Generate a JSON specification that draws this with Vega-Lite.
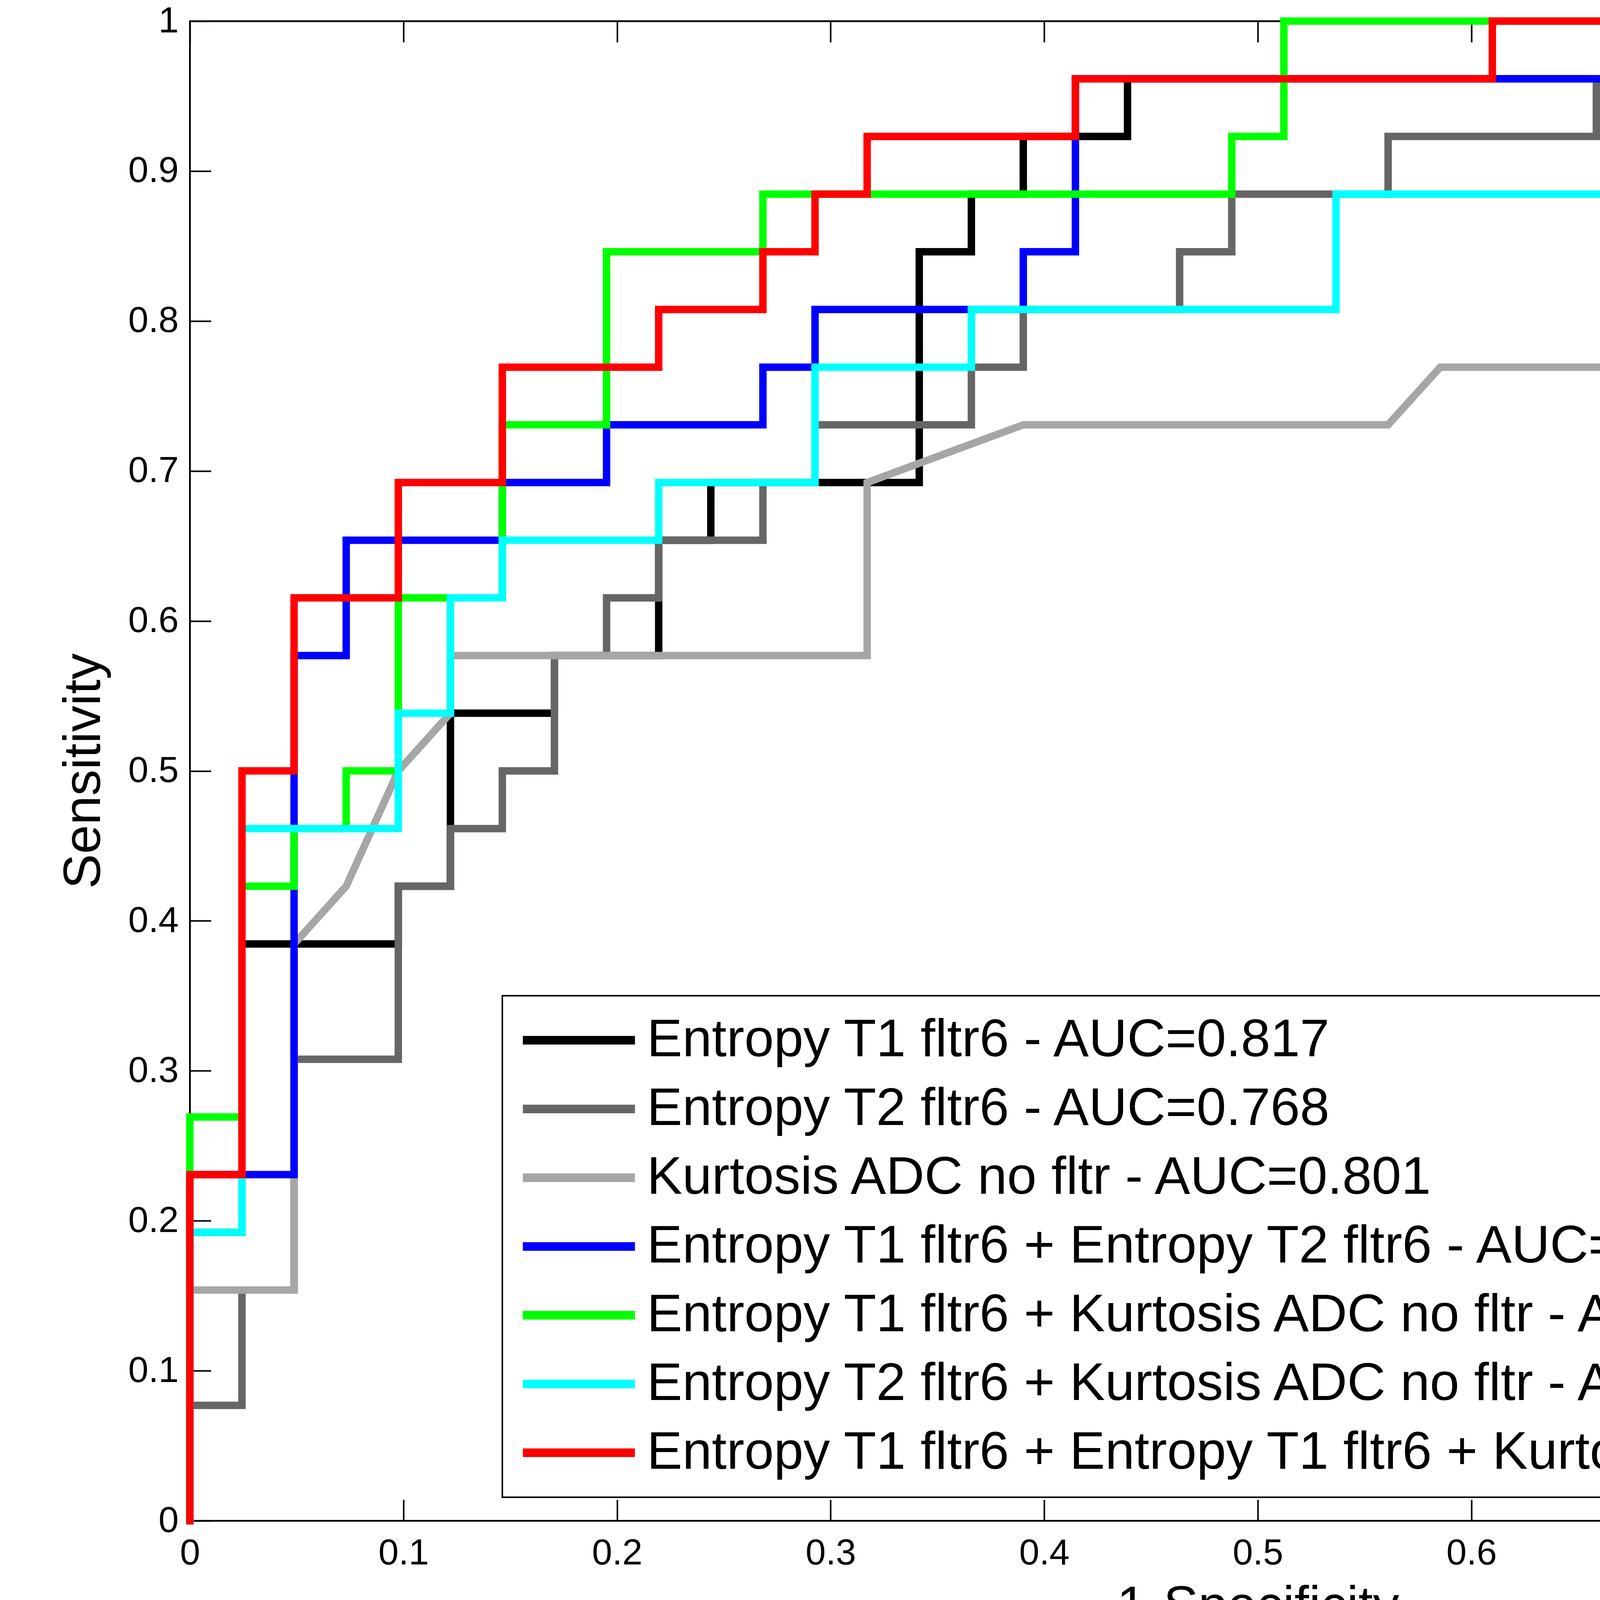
{
  "$schema": "https://vega.github.io/schema/vega-lite/v6.json",
  "width": 5468,
  "height": 3839,
  "autosize": {"type": "none"},
  "padding": {"left": 486, "top": 54, "right": 46, "bottom": 313},
  "background": "white",
  "config": {
    "view": {"stroke": "black", "strokeWidth": 4},
    "axis": {
      "domainColor": "black", "domainWidth": 4,
      "tickColor": "black", "tickWidth": 4, "tickSize": -54,
      "labelFont": "Liberation Sans", "labelFontSize": 93, "labelColor": "black", "labelFlush": false,
      "titleFont": "Liberation Sans", "titleFontSize": 134, "titleFontWeight": "normal", "titleColor": "black",
      "grid": false
    },
    "legend": {
      "labelFont": "Liberation Sans", "labelFontSize": 136, "labelColor": "black",
      "strokeColor": "black", "fillColor": "white", "strokeWidth": 4,
      "padding": 46, "rowPadding": 40, "labelOffset": 106,
      "symbolType": "M-2.87,0H2.87", "symbolStrokeWidth": 22, "symbolSize": 10000, "symbolOffset": 82,
      "labelLimit": 0
    }
  },
  "data": {"values": [
    {"s":"A","i":0,"x":0,"y":0},{"s":"A","i":1,"x":0,"y":0.1923},{"s":"A","i":2,"x":0.0244,"y":0.1923},{"s":"A","i":3,"x":0.0244,"y":0.3846},{"s":"A","i":4,"x":0.0976,"y":0.3846},{"s":"A","i":5,"x":0.0976,"y":0.4231},{"s":"A","i":6,"x":0.122,"y":0.4231},{"s":"A","i":7,"x":0.122,"y":0.5385},{"s":"A","i":8,"x":0.1707,"y":0.5385},{"s":"A","i":9,"x":0.1707,"y":0.5769},{"s":"A","i":10,"x":0.2195,"y":0.5769},{"s":"A","i":11,"x":0.2195,"y":0.6538},{"s":"A","i":12,"x":0.2439,"y":0.6538},{"s":"A","i":13,"x":0.2439,"y":0.6923},{"s":"A","i":14,"x":0.3415,"y":0.6923},{"s":"A","i":15,"x":0.3415,"y":0.8462},{"s":"A","i":16,"x":0.3659,"y":0.8462},{"s":"A","i":17,"x":0.3659,"y":0.8846},{"s":"A","i":18,"x":0.3902,"y":0.8846},{"s":"A","i":19,"x":0.3902,"y":0.9231},{"s":"A","i":20,"x":0.439,"y":0.9231},{"s":"A","i":21,"x":0.439,"y":0.9615},{"s":"A","i":22,"x":0.7561,"y":0.9615},{"s":"A","i":23,"x":0.7561,"y":1},{"s":"A","i":24,"x":1,"y":1},
    {"s":"B","i":0,"x":0,"y":0},{"s":"B","i":1,"x":0,"y":0.0769},{"s":"B","i":2,"x":0.0244,"y":0.0769},{"s":"B","i":3,"x":0.0244,"y":0.1538},{"s":"B","i":4,"x":0.0488,"y":0.1538},{"s":"B","i":5,"x":0.0488,"y":0.3077},{"s":"B","i":6,"x":0.0976,"y":0.3077},{"s":"B","i":7,"x":0.0976,"y":0.4231},{"s":"B","i":8,"x":0.122,"y":0.4231},{"s":"B","i":9,"x":0.122,"y":0.4615},{"s":"B","i":10,"x":0.1463,"y":0.4615},{"s":"B","i":11,"x":0.1463,"y":0.5},{"s":"B","i":12,"x":0.1707,"y":0.5},{"s":"B","i":13,"x":0.1707,"y":0.5769},{"s":"B","i":14,"x":0.1951,"y":0.5769},{"s":"B","i":15,"x":0.1951,"y":0.6154},{"s":"B","i":16,"x":0.2195,"y":0.6154},{"s":"B","i":17,"x":0.2195,"y":0.6538},{"s":"B","i":18,"x":0.2683,"y":0.6538},{"s":"B","i":19,"x":0.2683,"y":0.6923},{"s":"B","i":20,"x":0.2927,"y":0.6923},{"s":"B","i":21,"x":0.2927,"y":0.7308},{"s":"B","i":22,"x":0.3659,"y":0.7308},{"s":"B","i":23,"x":0.3659,"y":0.7692},{"s":"B","i":24,"x":0.3902,"y":0.7692},{"s":"B","i":25,"x":0.3902,"y":0.8077},{"s":"B","i":26,"x":0.4634,"y":0.8077},{"s":"B","i":27,"x":0.4634,"y":0.8462},{"s":"B","i":28,"x":0.4878,"y":0.8462},{"s":"B","i":29,"x":0.4878,"y":0.8846},{"s":"B","i":30,"x":0.561,"y":0.8846},{"s":"B","i":31,"x":0.561,"y":0.9231},{"s":"B","i":32,"x":0.6585,"y":0.9231},{"s":"B","i":33,"x":0.6585,"y":0.9615},{"s":"B","i":34,"x":0.9756,"y":0.9615},{"s":"B","i":35,"x":0.9756,"y":1},{"s":"B","i":36,"x":1,"y":1},
    {"s":"C","i":0,"x":0,"y":0},{"s":"C","i":1,"x":0,"y":0.1538},{"s":"C","i":2,"x":0.0488,"y":0.1538},{"s":"C","i":3,"x":0.0488,"y":0.3846},{"s":"C","i":4,"x":0.0732,"y":0.4231},{"s":"C","i":5,"x":0.0976,"y":0.5},{"s":"C","i":6,"x":0.122,"y":0.5385},{"s":"C","i":7,"x":0.122,"y":0.5769},{"s":"C","i":8,"x":0.3171,"y":0.5769},{"s":"C","i":9,"x":0.3171,"y":0.6923},{"s":"C","i":10,"x":0.3902,"y":0.7308},{"s":"C","i":11,"x":0.561,"y":0.7308},{"s":"C","i":12,"x":0.5854,"y":0.7692},{"s":"C","i":13,"x":0.7317,"y":0.7692},{"s":"C","i":14,"x":0.7561,"y":0.8077},{"s":"C","i":15,"x":0.7561,"y":0.8846},{"s":"C","i":16,"x":0.7805,"y":0.8846},{"s":"C","i":17,"x":0.8293,"y":0.9231},{"s":"C","i":18,"x":0.8293,"y":0.9615},{"s":"C","i":19,"x":0.9512,"y":0.9615},{"s":"C","i":20,"x":0.9512,"y":1},{"s":"C","i":21,"x":1,"y":1},
    {"s":"D","i":0,"x":0,"y":0},{"s":"D","i":1,"x":0,"y":0.2308},{"s":"D","i":2,"x":0.0488,"y":0.2308},{"s":"D","i":3,"x":0.0488,"y":0.5769},{"s":"D","i":4,"x":0.0732,"y":0.5769},{"s":"D","i":5,"x":0.0732,"y":0.6538},{"s":"D","i":6,"x":0.1463,"y":0.6538},{"s":"D","i":7,"x":0.1463,"y":0.6923},{"s":"D","i":8,"x":0.1951,"y":0.6923},{"s":"D","i":9,"x":0.1951,"y":0.7308},{"s":"D","i":10,"x":0.2683,"y":0.7308},{"s":"D","i":11,"x":0.2683,"y":0.7692},{"s":"D","i":12,"x":0.2927,"y":0.7692},{"s":"D","i":13,"x":0.2927,"y":0.8077},{"s":"D","i":14,"x":0.3902,"y":0.8077},{"s":"D","i":15,"x":0.3902,"y":0.8462},{"s":"D","i":16,"x":0.4146,"y":0.8462},{"s":"D","i":17,"x":0.4146,"y":0.9615},{"s":"D","i":18,"x":0.7317,"y":0.9615},{"s":"D","i":19,"x":0.7317,"y":1},{"s":"D","i":20,"x":1,"y":1},
    {"s":"E","i":0,"x":0,"y":0},{"s":"E","i":1,"x":0,"y":0.2692},{"s":"E","i":2,"x":0.0244,"y":0.2692},{"s":"E","i":3,"x":0.0244,"y":0.4231},{"s":"E","i":4,"x":0.0488,"y":0.4231},{"s":"E","i":5,"x":0.0488,"y":0.4615},{"s":"E","i":6,"x":0.0732,"y":0.4615},{"s":"E","i":7,"x":0.0732,"y":0.5},{"s":"E","i":8,"x":0.0976,"y":0.5},{"s":"E","i":9,"x":0.0976,"y":0.6154},{"s":"E","i":10,"x":0.1463,"y":0.6154},{"s":"E","i":11,"x":0.1463,"y":0.7308},{"s":"E","i":12,"x":0.1951,"y":0.7308},{"s":"E","i":13,"x":0.1951,"y":0.8462},{"s":"E","i":14,"x":0.2683,"y":0.8462},{"s":"E","i":15,"x":0.2683,"y":0.8846},{"s":"E","i":16,"x":0.4878,"y":0.8846},{"s":"E","i":17,"x":0.4878,"y":0.9231},{"s":"E","i":18,"x":0.5122,"y":0.9231},{"s":"E","i":19,"x":0.5122,"y":1},{"s":"E","i":20,"x":1,"y":1},
    {"s":"F","i":0,"x":0,"y":0},{"s":"F","i":1,"x":0,"y":0.1923},{"s":"F","i":2,"x":0.0244,"y":0.1923},{"s":"F","i":3,"x":0.0244,"y":0.4615},{"s":"F","i":4,"x":0.0976,"y":0.4615},{"s":"F","i":5,"x":0.0976,"y":0.5385},{"s":"F","i":6,"x":0.122,"y":0.5385},{"s":"F","i":7,"x":0.122,"y":0.6154},{"s":"F","i":8,"x":0.1463,"y":0.6154},{"s":"F","i":9,"x":0.1463,"y":0.6538},{"s":"F","i":10,"x":0.2195,"y":0.6538},{"s":"F","i":11,"x":0.2195,"y":0.6923},{"s":"F","i":12,"x":0.2927,"y":0.6923},{"s":"F","i":13,"x":0.2927,"y":0.7692},{"s":"F","i":14,"x":0.3659,"y":0.7692},{"s":"F","i":15,"x":0.3659,"y":0.8077},{"s":"F","i":16,"x":0.5366,"y":0.8077},{"s":"F","i":17,"x":0.5366,"y":0.8846},{"s":"F","i":18,"x":0.7317,"y":0.8846},{"s":"F","i":19,"x":0.7317,"y":0.9231},{"s":"F","i":20,"x":0.8537,"y":0.9231},{"s":"F","i":21,"x":0.8537,"y":0.9615},{"s":"F","i":22,"x":0.878,"y":0.9615},{"s":"F","i":23,"x":0.878,"y":1},{"s":"F","i":24,"x":1,"y":1},
    {"s":"G","i":0,"x":0,"y":0},{"s":"G","i":1,"x":0,"y":0.2308},{"s":"G","i":2,"x":0.0244,"y":0.2308},{"s":"G","i":3,"x":0.0244,"y":0.5},{"s":"G","i":4,"x":0.0488,"y":0.5},{"s":"G","i":5,"x":0.0488,"y":0.6154},{"s":"G","i":6,"x":0.0976,"y":0.6154},{"s":"G","i":7,"x":0.0976,"y":0.6923},{"s":"G","i":8,"x":0.1463,"y":0.6923},{"s":"G","i":9,"x":0.1463,"y":0.7692},{"s":"G","i":10,"x":0.2195,"y":0.7692},{"s":"G","i":11,"x":0.2195,"y":0.8077},{"s":"G","i":12,"x":0.2683,"y":0.8077},{"s":"G","i":13,"x":0.2683,"y":0.8462},{"s":"G","i":14,"x":0.2927,"y":0.8462},{"s":"G","i":15,"x":0.2927,"y":0.8846},{"s":"G","i":16,"x":0.3171,"y":0.8846},{"s":"G","i":17,"x":0.3171,"y":0.9231},{"s":"G","i":18,"x":0.4146,"y":0.9231},{"s":"G","i":19,"x":0.4146,"y":0.9615},{"s":"G","i":20,"x":0.6098,"y":0.9615},{"s":"G","i":21,"x":0.6098,"y":1},{"s":"G","i":22,"x":1,"y":1}
  ]},
  "layer": [
    {
      "mark": {"type": "line", "strokeWidth": 19, "strokeJoin": "miter", "strokeCap": "square"},
      "encoding": {
        "x": {"field": "x", "type": "quantitative", "scale": {"domain": [0, 1], "nice": false, "zero": false},
              "axis": {"orient": "bottom", "title": "1-Specificity", "values": [0,0.1,0.2,0.3,0.4,0.5,0.6,0.7,0.8,0.9,1], "format": "~g", "labelPadding": 92, "titlePadding": 24}},
        "y": {"field": "y", "type": "quantitative", "scale": {"domain": [0, 1], "nice": false, "zero": false},
              "axis": {"orient": "left", "title": "Sensitivity", "values": [0,0.1,0.2,0.3,0.4,0.5,0.6,0.7,0.8,0.9,1], "format": "~g", "labelPadding": 83, "titlePadding": 44}},
        "color": {"field": "s", "type": "nominal",
                  "scale": {"domain": ["A","B","C","D","E","F","G"], "range": ["#000000","#666666","#a6a6a6","#0000ff","#00ff00","#00ffff","#ff0000"]},
                  "legend": {"title": null, "orient": "bottom-right", "offset": 60,
                             "labelExpr": "datum.label == 'A' ? 'Entropy T1 fltr6 - AUC=0.817' : datum.label == 'B' ? 'Entropy T2 fltr6 - AUC=0.768' : datum.label == 'C' ? 'Kurtosis ADC no fltr - AUC=0.801' : datum.label == 'D' ? 'Entropy T1 fltr6 + Entropy T2 fltr6 - AUC=0.852' : datum.label == 'E' ? 'Entropy T1 fltr6 + Kurtosis ADC no fltr - AUC=0.872' : datum.label == 'F' ? 'Entropy T2 fltr6 + Kurtosis ADC no fltr - AUC=0.790' : 'Entropy T1 fltr6 + Entropy T1 fltr6 + Kurtosis ADC no fltr - AUC=0.887'"}},
        "order": {"field": "i", "type": "quantitative"}
      }
    },
    {
      "mark": {"type": "line", "strokeOpacity": 0},
      "encoding": {
        "x": {"field": "x", "type": "quantitative", "axis": {"orient": "top", "title": null, "labels": false, "values": [0,0.1,0.2,0.3,0.4,0.5,0.6,0.7,0.8,0.9,1]}},
        "y": {"field": "y", "type": "quantitative", "axis": {"orient": "right", "title": null, "labels": false, "values": [0,0.1,0.2,0.3,0.4,0.5,0.6,0.7,0.8,0.9,1]}},
        "detail": {"field": "s"},
        "order": {"field": "i", "type": "quantitative"}
      }
    }
  ],
  "resolve": {"axis": {"x": "independent", "y": "independent"}}
}
